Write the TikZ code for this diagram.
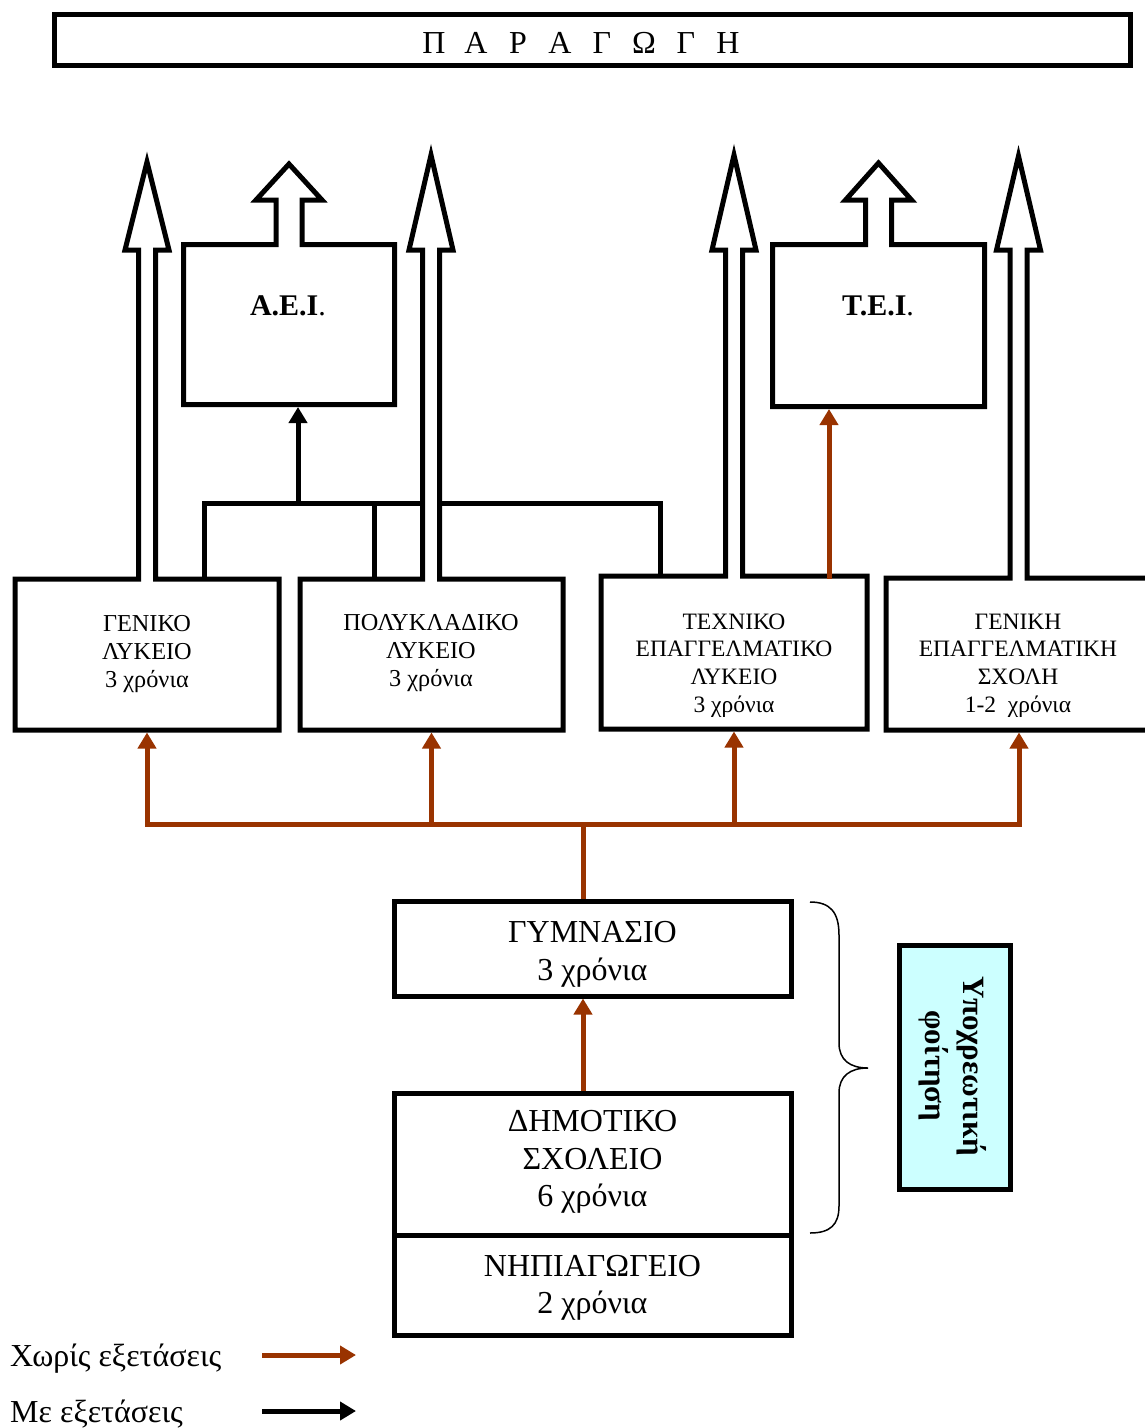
\documentclass[tikz,border=0pt]{standalone}
\usepackage{fontspec}
\setmainfont{Liberation Serif}
\usetikzlibrary{arrows.meta,calc}
\definecolor{brn}{RGB}{153,51,0}
\definecolor{lcyan}{RGB}{204,255,255}
% lyceum box merged with a big hollow arrow: L R T B cx tipy
\newcommand\lycshape[6]{%
  \filldraw[outline] (#1,#4) -- (#1,#3) -- ({#5-8.5},#3) -- ({#5-8.5},250) -- ({#5-22},250) -- (#5,#6)
   -- ({#5+22},250) -- ({#5+8.5},250) -- ({#5+8.5},#3) -- (#2,#3) -- (#2,#4) -- cycle;}
% higher-education box with a short hollow arrow: L R T B cx tipy
\newcommand\unishape[6]{%
  \filldraw[outline] (#1,#4) -- (#1,#3) -- ({#5-13},#3) -- ({#5-13},200) -- ({#5-33},200) -- (#5,#6)
   -- ({#5+33},200) -- ({#5+13},200) -- ({#5+13},#3) -- (#2,#3) -- (#2,#4) -- cycle;}
\begin{document}
\begin{tikzpicture}[x=1pt,y=-1pt,
  outline/.style={draw=black,fill=white,line width=5pt,miter limit=10},
  slot/.style={inner sep=0pt,outer sep=2.5pt,draw=none},
  box/.style={draw=black,line width=5pt,inner sep=0pt,align=center},
  conn/.style={draw=black,line width=5pt},
  blkarrow/.style={draw=black,line width=5pt,-{Triangle[width=18pt,length=16pt]}},
  brline/.style={draw=brn,line width=5pt},
  brarrow/.style={draw=brn,line width=5pt,-{Triangle[width=18pt,length=16pt]}},
  lytext/.style={inner sep=0pt,align=center,anchor=north,font=\fontsize{23.5}{27.7}\selectfont},
  bigtext/.style={inner sep=0pt,align=center,font=\fontsize{32}{37.5}\selectfont},
]
\useasboundingbox (0,0) rectangle (1145,1428);
\fill[white] (0,0) rectangle (1145,1428);
\clip (0,0) rectangle (1145,1428);

% title
\node[box,minimum width=1076pt,minimum height=51pt] (title) at (592.5,40) {};
\node[inner sep=0pt,font=\fontsize{32}{38}\selectfont] (titletext) at (581,42.5)
  {\makebox[42pt]{Π}\makebox[42pt]{Α}\makebox[42pt]{Ρ}\makebox[42pt]{Α}\makebox[42pt]{Γ}\makebox[42pt]{Ω}\makebox[42pt]{Γ}\makebox[42pt]{Η}};

% named slots for the boxes
\node[slot,minimum width=264pt,minimum height=151pt] (gen) at (147,654.5) {};
\node[slot,minimum width=263pt,minimum height=151pt] (pol) at (431.5,654.5) {};
\node[slot,minimum width=266pt,minimum height=153pt] (tec) at (734,652.5) {};
\node[slot,minimum width=266pt,minimum height=152pt] (ges) at (1019,654) {};
\node[slot,minimum width=211pt,minimum height=160pt] (aei) at (289,324.5) {};
\node[slot,minimum width=212pt,minimum height=162pt] (tei) at (878.5,325.5) {};

% black connectors (with exams)
\coordinate (blkL) at (204,503);
\coordinate (blkM) at (374,503);
\coordinate (blkA) at (298,503);
\coordinate (blkR) at (660,503);
\draw[conn] (gen.north -| blkL) -- (blkL) -- (blkR) -- (tec.north -| blkR);
\draw[conn] (blkM) -- (pol.north -| blkM);
\draw[blkarrow] (blkA) -- (aei.south -| blkA);

% box outlines with hollow arrows
\lycshape{15}{279}{579}{730}{147}{162}
\lycshape{300}{563}{579}{730}{431}{155}
\lycshape{601}{867}{576}{729}{734}{155}
\lycshape{886}{1152}{578}{730}{1018.5}{156}
\unishape{183.5}{394.5}{244.5}{404.5}{289}{164}
\unishape{772.5}{984.5}{244.5}{406.5}{878.5}{163}

% texts
\node[inner sep=0pt,font=\bfseries\fontsize{30}{34}\selectfont] (aeitext) at (288,306) {Α.Ε.Ι\textmd{.}};
\node[inner sep=0pt,font=\bfseries\fontsize{30}{34}\selectfont] (teitext) at (878,306) {Τ.Ε.Ι\textmd{.}};
\node[lytext,font=\fontsize{24.3}{28}\selectfont] (genT) at (147,615.5) {ΓΕΝΙΚΟ\\ΛΥΚΕΙΟ\\3 χρόνια};
\node[lytext,font=\fontsize{24.3}{28}\selectfont] (polT) at (431,614.5) {ΠΟΛΥΚΛΑΔΙΚΟ\\ΛΥΚΕΙΟ\\3 χρόνια};
\node[lytext] (tecT) at (734,613.5) {ΤΕΧΝΙΚΟ\\ΕΠΑΓΓΕΛΜΑΤΙΚΟ\\ΛΥΚΕΙΟ\\3 χρόνια};
\node[lytext] (gesT) at (1018,613.5) {ΓΕΝΙΚΗ\\ΕΠΑΓΓΕΛΜΑΤΙΚΗ\\ΣΧΟΛΗ\\1-2~~χρόνια};

% lower boxes
\node[box,minimum width=397pt,minimum height=94.5pt] (gym) at (592.5,948.75) {};
\node[box,minimum width=397pt,minimum height=142.5pt] (dim) at (592.5,1164.25) {};
\node[box,minimum width=397pt,minimum height=100pt] (nip) at (592.5,1285.5) {};
\node[bigtext] (gymT) at (592.5,954.5) {ΓΥΜΝΑΣΙΟ\\3 χρόνια};
\node[bigtext] (dimT) at (592.5,1162) {ΔΗΜΟΤΙΚΟ\\ΣΧΟΛΕΙΟ\\6 χρόνια};
\node[bigtext] (nipT) at (592.5,1288) {ΝΗΠΙΑΓΩΓΕΙΟ\\2 χρόνια};

% brown connectors (without exams)
\coordinate (busY) at (583,824);
\coordinate (teiX) at (829,500);
\draw[brline,line cap=rect] (gen.south |- busY) -- (ges.south |- busY);
\foreach \n in {gen,pol,tec,ges} \draw[brarrow] (\n.south |- busY) -- (\n.south);
\draw[brline] (busY) -- (gym.north -| busY);
\draw[brarrow] (dim.north -| busY) -- (gym.south -| busY);
\draw[brarrow] ($(tec.north -| teiX)+(0,5)$) -- (tei.south -| teiX);

% compulsory schooling
\node[box,fill=lcyan,minimum width=111pt,minimum height=244pt] (obl) at (955,1067.5) {};
\node[rotate=-90,inner sep=0pt,align=center,font=\bfseries\fontsize{31}{38}\selectfont] (obltext) at (953,1066) {Υποχρεωτική\\φοίτηση};
\draw[line width=1.5pt] (810,902) .. controls (830,902) and (839,912) .. (839,935) -- (839,1043)
  .. controls (839,1060) and (850,1068) .. (868,1068)
  .. controls (850,1068) and (839,1076) .. (839,1093) -- (839,1206)
  .. controls (839,1225) and (830,1233) .. (810,1233);

% legend
\node[anchor=base west,inner sep=0pt,font=\fontsize{32}{37}\selectfont] (leg1) at (10,1366) {Χωρίς εξετάσεις};
\node[anchor=base west,inner sep=0pt,font=\fontsize{32}{37}\selectfont] (leg2) at (10,1422) {Με εξετάσεις};
\coordinate (l1s) at (262,1355);
\coordinate (l1e) at (356,1355);
\coordinate (l2s) at (262,1411);
\coordinate (l2e) at (356,1411);
\draw[brarrow] (l1s) -- (l1e);
\draw[blkarrow] (l2s) -- (l2e);
\end{tikzpicture}
\end{document}
